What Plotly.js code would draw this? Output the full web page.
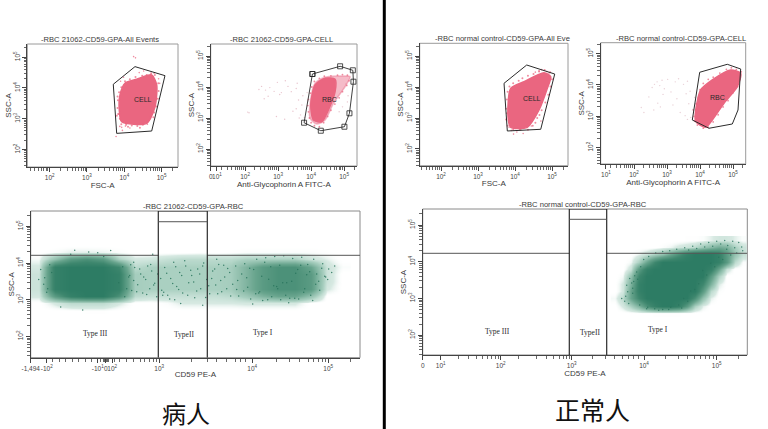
<!DOCTYPE html>
<html><head><meta charset="utf-8">
<script src="https://cdn.plot.ly/plotly-3.0.1.min.js"></script>
<style>html,body{margin:0;padding:0;background:#fff}#c{width:768px;height:429px}</style>
</head><body><div id="c"></div>
<script>
// All SSC / FSC / FITC values are log10 of the display scale; CD59 PE-A (bottom row) is in display channels.
var PINK='#EA6680', PINK_SOFT='rgba(236,120,145,0.5)', PINK_DOT='rgba(234,102,128,0.75)';

// ---- Panel A: patient, All Events
var aCloudX=[3.885,4.019,4.332,4.735,4.869,4.823,4.60,3.93,3.866];
var aCloudY=[3.772,4.153,4.283,4.423,4.098,3.39,2.85,2.90,3.283];
var aGateX=[4.287,5.091,4.735,3.796,3.705,4.287];
var aGateY=[4.694,4.40,2.60,2.524,4.12,4.694];
var aDotsX=[4.30,4.25,3.95,3.88,3.78,3.83,4.92,4.95,4.70,4.62,4.15,4.03,3.93,4.40,4.52,4.80,3.90,3.98];
var aDotsY=[4.98,5.02,2.62,2.75,2.42,3.15,4.30,4.15,3.00,2.82,2.70,2.76,2.72,4.50,4.55,4.48,4.22,4.35];
var aEdgeX=[3.83,3.82,3.85,3.88,3.92,4.05,4.20,4.35,4.50,4.62,4.70,4.80,4.86,4.90,4.92,4.91,4.82,4.72,4.60,4.48,4.30,4.15,4.02,3.92,3.86,3.82,3.80,4.10,4.42,4.78];
var aEdgeY=[3.60,3.35,3.15,3.00,2.82,2.80,2.78,2.76,2.80,2.92,3.05,3.20,3.40,3.65,3.90,4.15,4.42,4.48,4.42,4.40,4.36,4.28,4.22,4.02,3.86,3.72,3.10,2.74,2.71,3.05];
// ---- Panel B: patient, CELL
var bHaloX=[4.121,4.424,4.979,5.18,5.03,4.676,4.424,4.173,3.97,3.97];
var bHaloY=[4.119,4.313,4.355,4.332,4.01,3.474,2.935,2.806,2.99,3.474];
var bCoreX=[4.121,4.424,4.727,4.727,4.524,4.324,4.07,3.99];
var bCoreY=[4.065,4.281,4.248,3.848,3.258,2.881,2.935,3.419];
var bGateX=[4.04,4.879,5.264,5.282,5.161,5.009,4.294,3.788,4.04];
var bGateY=[4.419,4.668,4.539,4.171,3.152,2.719,2.59,2.848,4.419];
var bDotsX=[2.42,2.50,2.62,2.75,2.88,2.98,3.10,3.22,3.40,3.55,3.05,2.70,2.58,2.12,2.08,3.20,3.55,3.68,3.72,3.62,3.80,3.85,3.58,3.30,3.45,3.75,2.95,3.64,3.90,3.88,5.05,5.12,5.10,4.95,4.85];
var bDotsY=[3.92,4.02,3.90,3.98,3.86,4.15,3.82,4.20,3.85,3.95,3.76,3.70,3.62,3.17,3.19,2.96,3.30,3.10,3.42,3.58,3.02,2.88,4.12,4.02,3.22,3.72,3.05,3.00,3.55,3.82,4.10,3.72,3.52,3.36,3.20];
var bEdgeX=[3.90,3.92,3.95,4.00,4.10,4.25,4.38,4.50,4.60,4.72,4.85,4.95,5.08,5.15,5.10,4.95,4.80,4.60,4.40,4.25,4.10,4.02,3.98,3.92];
var bEdgeY=[3.40,3.20,3.00,2.85,2.75,2.72,2.85,3.05,3.25,3.45,3.65,3.85,4.05,4.20,4.38,4.40,4.38,4.36,4.35,4.28,4.18,4.00,3.80,3.60];
// ---- Panel C: normal, All Events
var cCloudX=[3.884,4.243,4.784,4.965,4.873,4.649,4.332,3.884,3.811];
var cCloudY=[3.958,4.171,4.461,4.332,3.958,3.258,2.7,2.7,3.042];
var cGateX=[4.316,5.073,4.695,3.792,3.703,4.316];
var cGateY=[4.71,4.419,2.635,2.581,4.119,4.71];
var cDotsX=[3.90,3.96,4.05,4.12,4.22,3.84,4.00,4.65,4.72,4.55,4.92,4.70,4.86,4.44];
var cDotsY=[2.60,2.48,2.55,2.62,2.50,2.70,2.66,4.52,4.56,4.48,4.45,2.90,4.50,2.74];
var cEdgeX=[3.76,3.78,3.80,3.85,3.95,4.10,4.20,4.35,4.50,4.65,4.80,4.95,5.00,4.96,4.90,4.82,4.72,4.60,4.48,4.35,4.15,3.95,3.80,3.76,3.78,4.55,4.66];
var cEdgeY=[3.30,3.60,3.85,4.02,4.12,4.20,4.28,4.36,4.42,4.50,4.55,4.48,4.25,4.02,3.75,3.50,3.25,3.00,2.75,2.62,2.62,2.62,2.75,2.95,3.15,2.85,3.10];
// ---- Panel D: normal, CELL
var dCloudX=[4.021,4.373,4.93,5.233,5.13,4.727,4.373,4.173,3.87,3.87];
var dCloudY=[3.84,4.16,4.479,4.374,3.946,3.415,2.882,2.649,2.827,3.201];
var dGateX=[3.991,4.827,5.233,5.152,4.979,4.273,3.767,3.991];
var dGateY=[4.406,4.661,4.511,3.201,2.754,2.617,2.882,4.406];
var dDotsX=[2.45,2.55,2.62,2.70,2.78,2.85,2.92,3.02,3.12,3.25,3.35,3.50,3.62,2.72,2.80,2.60,2.30,2.22,3.40,3.55,3.72,3.78,3.66,3.84,3.58,3.70,3.30,3.18,3.62,2.88];
var dDotsY=[3.62,3.92,4.02,4.10,3.98,4.15,3.88,4.18,3.78,4.10,4.20,4.02,4.12,3.42,3.30,3.20,3.12,3.28,3.12,3.02,2.96,3.22,3.40,3.60,3.72,3.80,3.56,3.36,2.90,3.70];
var dEdgeX=[3.82,3.80,3.88,3.95,4.00,4.10,4.25,4.40,4.60,4.80,4.95,5.10,5.25,5.22,5.14,5.00,4.85,4.70,4.55,4.40,4.25,4.10,3.92,3.84];
var dEdgeY=[3.00,3.20,3.40,3.60,3.85,4.05,4.18,4.25,4.38,4.50,4.55,4.50,4.42,4.20,3.95,3.75,3.50,3.30,3.05,2.82,2.65,2.62,2.72,2.85];

// ---- Panel E: event density (0..10), CD59 channel x SSC
var eDensX=[8,24,40,56,72,88,104,120,136,152,168,184,200,216,232,248,264,280,296,312];
var eDensY=[2.7,2.9,3.1,3.3,3.5,3.7,3.9,4.1,4.3,4.5];
var eDensity=[
 [0,0,0,.1,.1,0,0,0,0,0,0,0,0,0,0,0,0,0,0,0],
 [0,.7,1.5,1.5,1.5,.7,0,0,.2,.6,.6,.6,.6,.7,.7,.7,.7,0,0,0],
 [.7,6,9,10,10,7,1.5,1.2,1.2,1.2,1.2,1.2,1.5,2.5,4,5,5,3,0,0],
 [1,9,10,10,10,9,2.2,2,2,2,2,2,2.2,4,6,7,7,6,.7,0],
 [1,9,10,10,10,9,2.2,2,2,2,2,2,2.2,4,6,7,7,6,1,0],
 [1,9,10,10,10,9,2.2,2,2,2,2,2,2.2,4,6,7,7,6,1,0],
 [.7,9,10,10,10,8,1.5,2,2,2,2,2,2.2,4,6,7,7,5,1,.2],
 [.3,3,6,7,6,2,.7,.8,1.2,1.5,1.5,1.5,1.5,2,2,2,2,1,.5,0],
 [0,.2,.5,.5,.4,.2,0,0,0,0,.1,0,.1,.2,.2,.2,.2,.2,.1,0],
 [0,0,0,0,0,0,0,0,0,0,0,0,0,0,0,0,0,0,0,0]];
var eDotsX=[98,101,104,107,110,112,115,117,119,121,124,126,100,103,106,109,113,116,120,123,127,131,134,137,140,143,146,149,152,155,158,161,164,167,170,173,176,179,182,185,188,191,194,197,200,130,133,136,139,142,145,148,151,154,157,160,163,166,169,172,175,178,181,184,187,190,193,196,199,202,
 205,208,211,214,217,220,223,226,229,232,235,238,241,244,247,250,253,256,259,262,265,268,271,274,277,280,283,286,289,292,295,298,301,304,207,213,219,225,231,237,243,249,255,261,267,273,279,285,291,297,206,216,228,240,252,264,276,288,222,234,246,258,270,282,294,150,132,172,122,144,186,
 14,10,17,8,19,16,13,21,92,96,99,94,103,88,73,58,44,30,52,67,80,40];
var eDotsY=[3.62,3.25,3.88,3.41,3.70,3.18,3.55,3.92,3.30,3.78,3.45,3.08,3.95,3.52,3.22,3.84,3.62,3.14,3.96,3.40,3.70,3.26,3.88,3.12,3.58,4.02,3.36,3.74,3.18,3.92,3.46,3.66,3.05,3.84,3.30,4.00,3.55,3.16,3.78,3.40,3.96,3.22,3.62,3.85,3.10,3.58,3.20,3.72,3.02,3.44,3.90,3.28,3.66,4.06,3.12,3.80,3.48,3.24,3.70,3.92,3.06,3.38,3.58,3.84,3.16,3.52,3.94,3.30,3.74,3.42,
 3.92,3.10,3.70,3.98,3.34,3.02,3.82,4.10,3.22,2.98,4.14,3.56,3.08,4.18,3.30,3.00,4.20,3.46,3.04,4.12,3.72,3.02,4.16,3.30,3.96,3.12,4.10,3.70,3.26,3.98,3.62,3.84,3.74,3.92,3.52,3.24,3.86,3.16,3.64,3.00,3.38,3.94,3.12,3.50,3.82,3.20,3.76,3.42,3.86,3.55,3.28,3.60,3.18,3.90,3.46,3.04,3.68,3.50,2.88,4.02,3.36,2.92,3.94,2.98,3.64,2.90,3.12,2.85,4.24,3.00,4.10,
 3.60,3.82,3.30,3.55,3.95,3.20,3.42,3.74,3.90,3.30,3.66,3.08,4.02,3.46,4.18,4.30,4.35,2.80,2.72,4.28,4.34,4.24,2.78,2.86];
// ---- Panel F: event density (0..10)
var fDensX=[192,200,208,216,224,232,240,248,256,264,272,280,288,296,304,312,320];
var fDensY=[2.6,2.8,3.0,3.2,3.4,3.6,3.8,4.0,4.2,4.4,4.6];
var fDensity=[
 [0,0,0,0,0,.1,.1,.1,.1,0,0,0,0,0,0,0,0],
 [0,.7,2,4,7,9,10,10,9,6,2,.5,0,0,0,0,0],
 [.3,1.5,5,8,10,10,10,10,10,10,7,3,.5,0,0,0,0],
 [0,.7,5,9,10,10,10,10,10,10,10,6,1.5,.2,0,0,0],
 [0,.7,4,9,10,10,10,10,10,10,10,8,4,.6,0,0,0],
 [0,.3,3,8,10,10,10,10,10,10,10,10,6,2,0,0,0],
 [0,0,1,6,9,10,10,10,10,10,10,10,9,5,1,0,0],
 [0,0,.3,2,5,8,10,10,10,10,10,10,10,9,6,1.5,.2],
 [0,0,0,.4,1,2,3,5,7,9,10,10,10,9,6,3,1.2],
 [0,0,0,0,0,0,.2,.4,.8,1,1.5,2.5,3.5,4.5,4,2,1],
 [0,0,0,0,0,0,0,0,0,.1,.1,.2,.5,.8,.8,.5,.2]];
var fDotsX=[199,202,205,209,212,206,210,214,218,215,221,226,233,240,247,254,262,270,278,286,294,302,310,316,319,305,298,290,282,274,266,259,246,236,224,320,314,308,300,292,284,276,268,261,256,248,240,232,225,217,204,210,207,203,211,312,304,296,288,280,272,265];
var fDotsY=[3.00,2.92,3.18,3.42,3.62,2.86,3.28,3.72,3.86,3.52,4.06,4.14,4.24,4.28,4.30,4.34,4.38,4.42,4.48,4.52,4.56,4.58,4.56,4.52,4.40,4.44,4.48,4.42,4.40,4.36,4.32,2.74,2.70,2.68,2.72,4.30,4.24,4.18,4.06,3.86,3.64,3.40,3.20,3.00,2.82,2.76,2.70,2.72,2.76,2.82,3.36,3.14,3.54,3.06,3.46,4.38,4.34,4.12,3.96,3.76,3.24,2.92];

// ---- Quadrant gates of the CD59 panels
var eLeftGateX=[0,127.6], eRightGateX=[176.6,329.3], eGateSSC=[4.21,4.21];
var eTypeIIX=[127.6,127.6,176.6,176.6], eTypeIIY=[1.42,5.417,5.417,1.42];
var eTopX=[127.6,176.6], eTopY=[5.125,5.125];
var fLeftGateX=[0,146.6], fRightGateX=[184,324.6], fGateSSC=[4.229,4.229];
var fTypeIIX=[146.6,146.6,184,184], fTypeIIY=[1.458,5.436,5.436,1.458];
var fTopX=[146.6,184], fTopY=[5.155,5.155];

// ---- Tick positions and labels
var logTickVals=[2,3,4,5];
var logTickText=['10<sup>2</sup>','10<sup>3</sup>','10<sup>4</sup>','10<sup>5</sup>'];
var fitcTickVals=[0.96,1.15,2,3,4,5];
var fitcTickText=['0','10<sup>1</sup>','10<sup>2</sup>','10<sup>3</sup>','10<sup>4</sup>','10<sup>5</sup>'];
var eTickVals=[0,16,67,75,81.5,128.5,221.5,297.5];
var eTickText=['-1,494','-10<sup>2</sup>','-10<sup>1</sup>','0','10<sup>2</sup>','10<sup>3</sup>','10<sup>4</sup>','10<sup>5</sup>'];
var eMinor=[22,29,35,42,48,55,61,70,73,74,76,77,78,84,89,96,103,110,114,119,122.6,126,161,177,186,196,205,210,215,246,259,269,277.6,283,288,292,295,320];
var fTickVals=[0,18,78,149,221.3,294];
var fTickText=['0','10<sup>1</sup>','10<sup>2</sup>','10<sup>3</sup>','10<sup>4</sup>','10<sup>5</sup>'];
var fMinor=[36,46,54,60,65,69,73,76,96,114,124,131,137,141,144,147,170,183,192,200,206,211,216,243,256,265,272,278,283,287,291,316];

function logMinor(from,to){var r=[];for(var d=from;d<=to;d++)for(var k=2;k<=9;k++)r.push(d+Math.log10(k));return r;}

var INK='#3a3a3a', AXIS='#444';
var greenScale=[[0,'rgba(255,255,255,0)'],[0.06,'rgba(205,228,219,0.8)'],[0.2,'rgb(170,208,193)'],[0.5,'rgb(105,165,142)'],[0.8,'rgb(62,135,110)'],[1,'rgb(45,124,100)']];
var traces=[];
function poly(x,y,c,ax,ay){traces.push({type:'scatter',mode:'lines',x:x.concat(x[0]),y:y.concat(y[0]),fill:'toself',fillcolor:c,line:{width:1.5,color:c,shape:'spline',smoothing:0.7},xaxis:ax,yaxis:ay,hoverinfo:'skip',showlegend:false});}
function dots(x,y,c,s,ax,ay){traces.push({type:'scatter',mode:'markers',x:x,y:y,marker:{color:c,size:s,line:{width:0}},xaxis:ax,yaxis:ay,hoverinfo:'skip',showlegend:false});}
function gate(x,y,ax,ay,w,sym,col){var t={type:'scatter',mode:sym?'lines+markers':'lines',x:x,y:y,line:{color:col||'#2b2b2b',width:w},xaxis:ax,yaxis:ay,hoverinfo:'skip',showlegend:false};if(sym)t.marker={symbol:'square-open',size:5,color:'#222',line:{width:0.8,color:'#222'}};traces.push(t);}
function density(x,y,z,ax,ay){traces.push({type:'heatmap',x:x,y:y,z:z,zmin:0,zmax:10,zsmooth:'best',colorscale:greenScale,showscale:false,xaxis:ax,yaxis:ay,hoverinfo:'skip'});}

// A
dots(aDotsX,aDotsY,PINK_DOT,1.6,'x','y');
poly(aCloudX,aCloudY,PINK,'x','y'); dots(aEdgeX,aEdgeY,PINK_DOT,2,'x','y'); gate(aGateX,aGateY,'x','y',1);
// B
dots(bDotsX,bDotsY,'rgba(215,150,165,0.55)',1.4,'x2','y2');
poly(bHaloX,bHaloY,PINK_SOFT,'x2','y2'); poly(bCoreX,bCoreY,PINK,'x2','y2'); dots(bEdgeX,bEdgeY,PINK_DOT,1.8,'x2','y2'); gate(bGateX,bGateY,'x2','y2',0.9,true);
// C
dots(cDotsX,cDotsY,PINK_DOT,1.6,'x3','y3');
poly(cCloudX,cCloudY,PINK,'x3','y3'); dots(cEdgeX,cEdgeY,PINK_DOT,2,'x3','y3'); gate(cGateX,cGateY,'x3','y3',1);
// D
dots(dDotsX,dDotsY,'rgba(215,170,180,0.55)',1.4,'x4','y4');
poly(dCloudX,dCloudY,PINK,'x4','y4'); dots(dEdgeX,dEdgeY,PINK_DOT,1.8,'x4','y4'); gate(dGateX,dGateY,'x4','y4',1);
// E
density(eDensX,eDensY,eDensity,'x5','y5');
dots(eDotsX,eDotsY,'rgba(40,115,92,0.85)',1.5,'x5','y5');
gate(eLeftGateX,eGateSSC,'x5','y5',1,false,'#555'); gate(eRightGateX,eGateSSC,'x5','y5',1,false,'#555'); gate(eTypeIIX,eTypeIIY,'x5','y5',1.2); gate(eTopX,eTopY,'x5','y5',1,false,'#555');
// F
density(fDensX,fDensY,fDensity,'x6','y6');
dots(fDotsX,fDotsY,'rgba(40,115,92,0.8)',1.5,'x6','y6');
gate(fLeftGateX,fGateSSC,'x6','y6',1,false,'#555'); gate(fRightGateX,fGateSSC,'x6','y6',1,false,'#555'); gate(fTypeIIX,fTypeIIY,'x6','y6',1.2); gate(fTopX,fTopY,'x6','y6',1,false,'#555');

var W=768,H=429;
function xdom(a,b){return [a/W,b/W];}
function ydom(top,bot){return [1-bot/H,1-top/H];}
var tickFont={family:'Liberation Sans',size:6.5,color:'#444'};
function xa(dom,range,tv,tt,minorVals,anchor,title,standoff){return {domain:dom,range:range,anchor:anchor,tickmode:'array',tickvals:tv,ticktext:tt,ticks:'outside',ticklen:4,tickwidth:1,tickcolor:AXIS,tickfont:tickFont,tickangle:0,showgrid:false,zeroline:false,showline:true,linecolor:AXIS,linewidth:1,
 minor:{tickmode:'array',tickvals:minorVals,ticks:'outside',ticklen:3,tickwidth:0.8,tickcolor:AXIS,showgrid:false},
 title:{text:title,font:{family:'Liberation Sans',size:8,color:INK},standoff:standoff}};}
function ya(dom,range,anchor,standoff){return {domain:dom,range:range,anchor:anchor,tickmode:'array',tickvals:logTickVals,ticktext:logTickText,ticks:'outside',ticklen:4,tickwidth:1,tickcolor:AXIS,tickfont:tickFont,tickangle:-90,showgrid:false,zeroline:false,showline:true,linecolor:AXIS,linewidth:1,
 minor:{tickmode:'array',tickvals:logMinor(1,5),ticks:'outside',ticklen:2.5,tickwidth:0.8,tickcolor:AXIS,showgrid:false},
 title:{text:'SSC-A',font:{family:'Liberation Sans',size:8,color:INK},standoff:standoff}};}

var layout={width:W,height:H,margin:{l:0,r:0,t:0,b:0},paper_bgcolor:'#fff',plot_bgcolor:'#fff',showlegend:false,
 xaxis:xa(xdom(27.3,178),[1.40,5.44],logTickVals,logTickText,logMinor(1,5),'y','FSC-A',1),
 yaxis:ya(ydom(44,167),[1.43,5.43],'x',0),
 xaxis2:xa(xdom(210.7,357),[0.96,5.39],fitcTickVals,fitcTickText,logMinor(1,5),'y2','Anti-Glycophorin A FITC-A',0),
 yaxis2:ya(ydom(44,166),[1.452,5.387],'x2',0),
 xaxis3:xa(xdom(419.7,568),[1.424,5.432],logTickVals,logTickText,logMinor(1,5),'y3','FSC-A',1),
 yaxis3:ya(ydom(43.3,165.7),[1.461,5.41],'x3',0),
 xaxis4:xa(xdom(600.7,745.7),[0.991,5.385],fitcTickVals,fitcTickText,logMinor(1,5),'y4','Anti-Glycophorin A FITC-A',0),
 yaxis4:ya(ydom(42.7,164),[1.476,5.351],'x4',0),
 xaxis5:xa(xdom(30.7,360),[0,329.3],eTickVals,eTickText,eMinor,'y5','CD59 PE-A',0),
 yaxis5:ya(ydom(211,357.7),[1.42,5.417],'x5',0),
 xaxis6:xa(xdom(422.7,747.3),[0,324.6],fTickVals,fTickText,fMinor,'y6','CD59 PE-A',0),
 yaxis6:ya(ydom(209,355),[1.458,5.436],'x6',0),
 shapes:[
  {type:'rect',xref:'x domain',yref:'y domain',x0:0,x1:1,y0:0,y1:1,line:{color:'#9a9a9a',width:1},layer:'below'},
  {type:'rect',xref:'x2 domain',yref:'y2 domain',x0:0,x1:1,y0:0,y1:1,line:{color:'#9a9a9a',width:1},layer:'below'},
  {type:'rect',xref:'x3 domain',yref:'y3 domain',x0:0,x1:1,y0:0,y1:1,line:{color:'#9a9a9a',width:1},layer:'below'},
  {type:'rect',xref:'x4 domain',yref:'y4 domain',x0:0,x1:1,y0:0,y1:1,line:{color:'#9a9a9a',width:1},layer:'below'},
  {type:'rect',xref:'x5 domain',yref:'y5 domain',x0:0,x1:1,y0:0,y1:1,line:{color:'#8a8a8a',width:1},layer:'below'},
  {type:'rect',xref:'x6 domain',yref:'y6 domain',x0:0,x1:1,y0:0,y1:1,line:{color:'#8a8a8a',width:1},layer:'below'},
  {type:'line',xref:'paper',yref:'paper',x0:384.3/W,x1:384.3/W,y0:0,y1:1,line:{color:'#000',width:3}}
 ],
 annotations:[]};

function pageText(t,px,py,size,fam,color){layout.annotations.push({text:t,xref:'paper',yref:'paper',x:px/W,y:1-py/H,xanchor:'center',yanchor:'middle',showarrow:false,font:{family:fam,size:size,color:color||INK}});}
function dataText(t,x,y,ax,ay,size,fam){layout.annotations.push({text:t,xref:ax,yref:ay,x:x,y:y,xanchor:'center',yanchor:'middle',showarrow:false,font:{family:fam||'Liberation Sans',size:size,color:'#2a2a2a'}});}

pageText('-RBC 21062-CD59-GPA-All Events',100,40,7.6,'Liberation Sans');
pageText('-RBC 21062-CD59-GPA-CELL',281,40,7.6,'Liberation Sans');
pageText('-RBC normal control-CD59-GPA-All Eve',502.7,38.5,7.6,'Liberation Sans');
pageText('-RBC normal control-CD59-GPA-CELL',680.7,38,7.6,'Liberation Sans');
pageText('-RBC 21062-CD59-GPA-RBC',193,206.5,7.6,'Liberation Sans');
pageText('-RBC normal control-CD59-GPA-RBC',583,205,7.6,'Liberation Sans');
pageText('病人',186,412,24,'Noto Sans CJK SC','#111');
pageText('正常人',592,409,25,'Noto Sans CJK SC','#111');

dataText('CELL',4.493,3.609,'x','y',7);
dataText('RBC',4.555,3.603,'x2','y2',7);
dataText('CELL',4.468,3.623,'x3','y3',7);
dataText('RBC',4.524,3.607,'x4','y4',7);
dataText('Type III',64.3,2.084,'x5','y5',7.5,'Liberation Serif');
dataText('TypeII',153.6,2.04,'x5','y5',7.5,'Liberation Serif');
dataText('Type I',232.6,2.10,'x5','y5',7.5,'Liberation Serif');
dataText('Type III',74.6,2.11,'x6','y6',7.5,'Liberation Serif');
dataText('TypeII',167,2.08,'x6','y6',7.5,'Liberation Serif');
dataText('Type I',235.3,2.14,'x6','y6',7.5,'Liberation Serif');

Plotly.newPlot('c',traces,layout,{staticPlot:true,displayModeBar:false});
</script></body></html>
